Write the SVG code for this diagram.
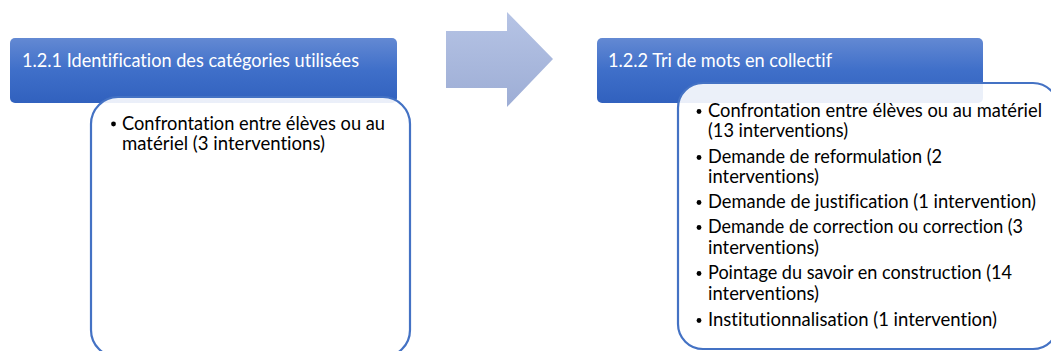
<svg xmlns="http://www.w3.org/2000/svg" width="1051" height="351" viewBox="0 0 1051 351">
<defs>
<linearGradient id="hdr" x1="0" y1="0" x2="0" y2="1">
<stop offset="0" stop-color="#6389d3"/>
<stop offset="0.5" stop-color="#3f6fc9"/>
<stop offset="1" stop-color="#3161be"/>
</linearGradient>
<linearGradient id="arr" x1="0" y1="0" x2="0" y2="1">
<stop offset="0" stop-color="#b6c4e5"/>
<stop offset="1" stop-color="#9dadd5"/>
</linearGradient>
<style>
.hdr{fill:url(#hdr);}
.box{fill:#ffffff;fill-opacity:0.9;stroke:#4472c4;stroke-width:2.2;}
.ht{font-family:Lato,"Liberation Sans",sans-serif;font-size:18.5px;fill:#ffffff;font-variant-ligatures:none;}
.bt{font-family:Lato,"Liberation Sans",sans-serif;font-size:18.5px;fill:#000000;font-variant-ligatures:none;}
.dot{fill:#000000;}
</style>
</defs>
<g id="node-left">
<rect class="hdr" x="10" y="38" width="387" height="65" rx="5"/>
<text class="ht" x="22" y="67" textLength="337" lengthAdjust="spacingAndGlyphs">1.2.1 Identification des catégories utilisées</text>
<rect class="box" x="91" y="97" width="319" height="260" rx="27"/>
<circle class="dot" cx="113.5" cy="124" r="2.4"/>
<text class="bt" x="122" y="129.5" textLength="263" lengthAdjust="spacingAndGlyphs">Confrontation entre élèves ou au</text>
<text class="bt" x="122" y="149.5" textLength="203" lengthAdjust="spacingAndGlyphs">matériel (3 interventions)</text>
</g>
<g id="connectors">
<polygon points="446,31 507,31 507,12 553,59 507,107 507,88 446,88" fill="url(#arr)"/>
</g>
<g id="node-right">
<rect class="hdr" x="597" y="38" width="386" height="65" rx="5"/>
<text class="ht" x="608" y="67" textLength="224" lengthAdjust="spacingAndGlyphs">1.2.2 Tri de mots en collectif</text>
<rect class="box" x="678" y="83" width="380" height="266" rx="25"/>
<circle class="dot" cx="699" cy="111.5" r="2.4"/>
<text class="bt" x="708" y="117" textLength="334" lengthAdjust="spacingAndGlyphs">Confrontation entre élèves ou au matériel</text>
<text class="bt" x="708" y="137" textLength="140" lengthAdjust="spacingAndGlyphs">(13 interventions)</text>
<circle class="dot" cx="699" cy="157.5" r="2.4"/>
<text class="bt" x="708" y="163" textLength="234" lengthAdjust="spacingAndGlyphs">Demande de reformulation (2</text>
<text class="bt" x="708" y="183" textLength="111" lengthAdjust="spacingAndGlyphs">interventions)</text>
<circle class="dot" cx="699" cy="202.5" r="2.4"/>
<text class="bt" x="708" y="208" textLength="328" lengthAdjust="spacingAndGlyphs">Demande de justification (1 intervention)</text>
<circle class="dot" cx="699" cy="227.5" r="2.4"/>
<text class="bt" x="708" y="233" textLength="315" lengthAdjust="spacingAndGlyphs">Demande de correction ou correction (3</text>
<text class="bt" x="708" y="254" textLength="111" lengthAdjust="spacingAndGlyphs">interventions)</text>
<circle class="dot" cx="699" cy="273.5" r="2.4"/>
<text class="bt" x="708" y="279" textLength="304" lengthAdjust="spacingAndGlyphs">Pointage du savoir en construction (14</text>
<text class="bt" x="708" y="300" textLength="111" lengthAdjust="spacingAndGlyphs">interventions)</text>
<circle class="dot" cx="699" cy="320.5" r="2.4"/>
<text class="bt" x="708" y="326" textLength="289" lengthAdjust="spacingAndGlyphs">Institutionnalisation (1 intervention)</text>
</g>
</svg>
